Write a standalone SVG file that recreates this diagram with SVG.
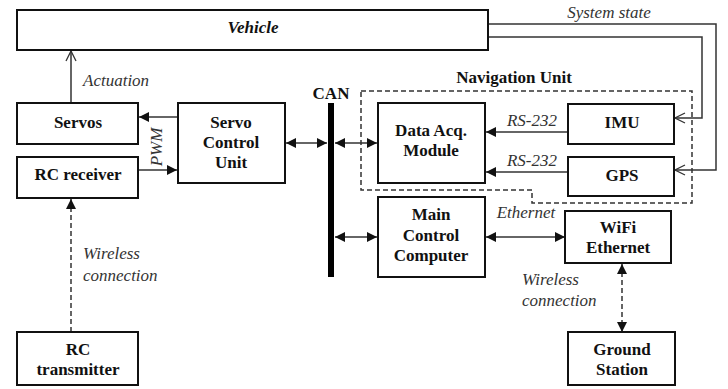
<svg xmlns="http://www.w3.org/2000/svg" width="728" height="389" viewBox="0 0 728 389">
<style>
.box{fill:#fff;stroke:#111;stroke-width:2}
.b{font-family:"Times New Roman","Liberation Serif","DejaVu Serif",Times,serif;font-weight:bold;font-size:17px;fill:#111;text-anchor:middle}
.i{font-family:"Times New Roman","Liberation Serif","DejaVu Serif",Times,serif;font-style:italic;font-size:17px;fill:#333}
.ln{fill:none;stroke:#333;stroke-width:1.5}
.dash{fill:none;stroke:#333;stroke-width:1.5;stroke-dasharray:5,3}
</style>
<defs>
<marker id="fa" viewBox="0 0 10 10" refX="10" refY="5" markerWidth="10" markerHeight="10" markerUnits="userSpaceOnUse" orient="auto-start-reverse">
<path d="M0,0 L10,5 L0,10 z" fill="#111"/>
</marker>
<marker id="oa" viewBox="0 0 12 12" refX="11" refY="6" markerWidth="12" markerHeight="12" markerUnits="userSpaceOnUse" orient="auto">
<path d="M1,1 L11,6 L1,11" fill="none" stroke="#333" stroke-width="1.3"/>
</marker>
</defs>

<g id="nav-unit">
<path class="dash" d="M361,91 H692 V203 H532 V190 H361 Z"/>
<text class="b" x="514" y="83">Navigation Unit</text>
</g>

<g id="connectors">
<line class="ln" x1="71" y1="103" x2="71" y2="51" marker-end="url(#oa)"/>
<line class="ln" x1="178" y1="117" x2="139" y2="117" marker-end="url(#fa)"/>
<line class="ln" x1="139" y1="170" x2="177" y2="170" marker-end="url(#fa)"/>
<line class="ln" x1="286" y1="143" x2="327" y2="143" marker-start="url(#fa)" marker-end="url(#fa)"/>
<line class="ln" x1="335" y1="143" x2="377" y2="143" marker-start="url(#fa)" marker-end="url(#fa)"/>
<line class="ln" x1="335" y1="237" x2="377" y2="237" marker-start="url(#fa)" marker-end="url(#fa)"/>
<line class="ln" x1="486" y1="237" x2="565" y2="237" marker-start="url(#fa)" marker-end="url(#fa)"/>
<line class="ln" x1="568" y1="132" x2="486" y2="132" marker-end="url(#fa)"/>
<line class="ln" x1="568" y1="172" x2="486" y2="172" marker-end="url(#fa)"/>
<polyline class="ln" points="488,24 716,24 716,170 675,170" marker-end="url(#oa)"/>
<polyline class="ln" points="488,37 702,37 702,118 675,118" marker-end="url(#oa)"/>
<line class="dash" x1="71" y1="332" x2="71" y2="199" marker-end="url(#fa)"/>
<line class="dash" x1="622" y1="264" x2="622" y2="332" marker-start="url(#fa)" marker-end="url(#fa)"/>
<text class="i" x="83" y="86">Actuation</text>
<text class="i" transform="rotate(-90 162 147)" x="162" y="147" text-anchor="middle">PWM</text>
<text class="i" x="532" y="126" text-anchor="middle">RS-232</text>
<text class="i" x="532" y="166" text-anchor="middle">RS-232</text>
<text class="i" x="609" y="18" text-anchor="middle">System state</text>
<text class="i" x="526" y="218" text-anchor="middle">Ethernet</text>
<text class="i" x="83" y="259">Wireless</text>
<text class="i" x="83" y="281">connection</text>
<text class="i" x="522" y="285">Wireless</text>
<text class="i" x="522" y="306">connection</text>
</g>

<g id="vehicle">
<rect class="box" x="17" y="10" width="471" height="40"/>
<text class="b" x="253" y="33" font-style="italic">Vehicle</text>
</g>
<g id="servos">
<rect class="box" x="17" y="103" width="121" height="41"/>
<text class="b" x="78" y="128">Servos</text>
</g>
<g id="rc-receiver">
<rect class="box" x="17" y="157" width="121" height="41"/>
<text class="b" x="78" y="180">RC receiver</text>
</g>
<g id="servo-control-unit">
<rect class="box" x="178" y="103" width="107" height="80"/>
<text class="b" x="231" y="128">Servo</text>
<text class="b" x="231" y="148">Control</text>
<text class="b" x="231" y="168">Unit</text>
</g>
<g id="can">
<rect x="328" y="103" width="6" height="174" fill="#000"/>
<text class="b" x="331" y="99">CAN</text>
</g>
<g id="data-acq">
<rect class="box" x="378" y="103" width="107" height="80"/>
<text class="b" x="431" y="136">Data Acq.</text>
<text class="b" x="431" y="156">Module</text>
</g>
<g id="imu">
<rect class="box" x="568" y="104" width="106" height="40"/>
<text class="b" x="622" y="128">IMU</text>
</g>
<g id="gps">
<rect class="box" x="568" y="157" width="106" height="39"/>
<text class="b" x="622" y="181">GPS</text>
</g>
<g id="main-control-computer">
<rect class="box" x="378" y="197" width="107" height="80"/>
<text class="b" x="431" y="220">Main</text>
<text class="b" x="431" y="241">Control</text>
<text class="b" x="431" y="261">Computer</text>
</g>
<g id="wifi-ethernet">
<rect class="box" x="565" y="211" width="106" height="52"/>
<text class="b" x="618" y="233">WiFi</text>
<text class="b" x="618" y="253">Ethernet</text>
</g>
<g id="ground-station">
<rect class="box" x="568" y="332" width="107" height="53"/>
<text class="b" x="622" y="355">Ground</text>
<text class="b" x="622" y="375">Station</text>
</g>
<g id="rc-transmitter">
<rect class="box" x="17" y="332" width="121" height="53"/>
<text class="b" x="78" y="355">RC</text>
<text class="b" x="78" y="375">transmitter</text>
</g>
</svg>
